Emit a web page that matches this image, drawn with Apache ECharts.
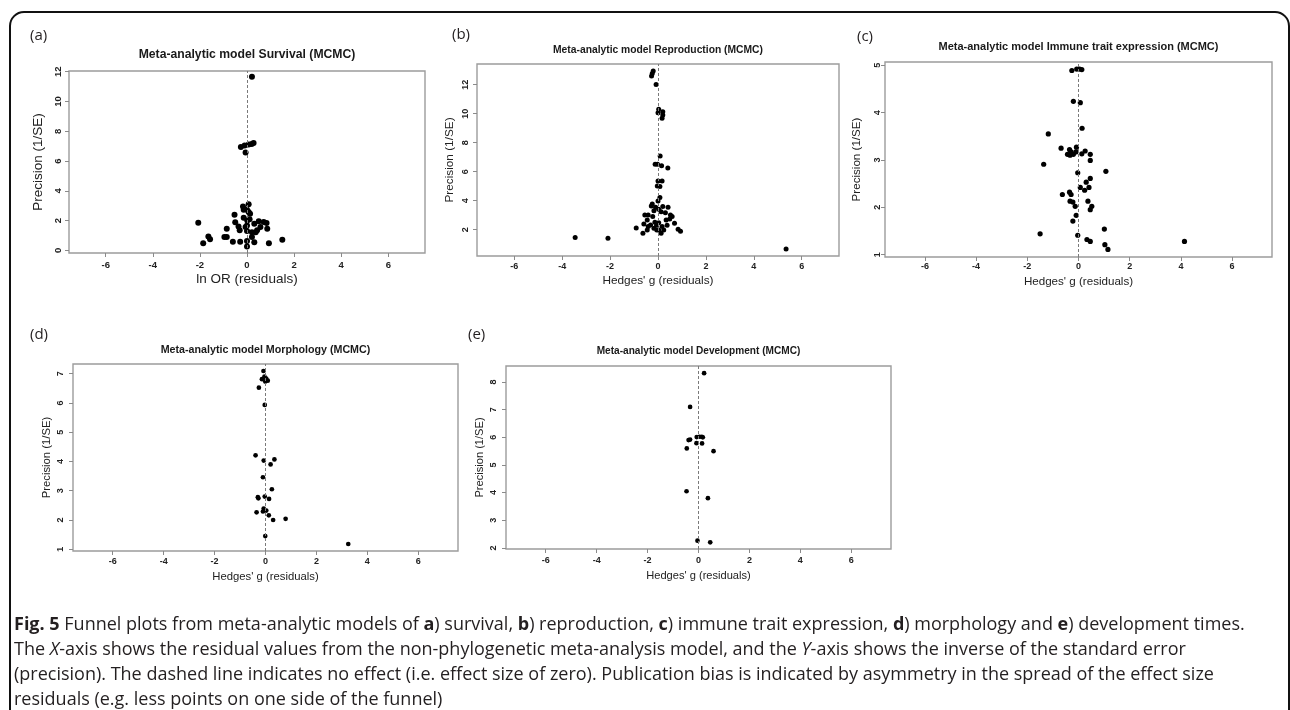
<!DOCTYPE html>
<html>
<head>
<meta charset="utf-8">
<script src="https://cdn.jsdelivr.net/npm/echarts@6/dist/echarts.min.js"></script>
<style>
  html, body { margin: 0; padding: 0; background: #fff; }
  #main { width: 1290px; height: 710px; }
</style>
</head>
<body>
<div id="main"></div>
<script>
// ---- Data: residual effect size (x) and precision 1/SE (y) for each trait model ----
const survivalResid = [0.21, -0.26, -0.1, 0.07, 0.2, 0.28, -0.06, 0.07, -0.17, -0.14, 0, 0.07, 0.13, -0.53, -2.07, -0.14, 0.01, 0.11, -0.5, 0.5, 0.31, 0.71, 0.83, 0, -0.06, -0.36, 0.57, -0.31, -0.86, 0, 0.37, 0.21, 0.86, 0.43, 0.21, -1.64, -1.57, -0.86, -0.96, 1.5, -0.6, -0.29, 0, 0.31, -1.86, 0.93, 0];
const survivalPrecision = [11.66, 6.95, 7.05, 7.12, 7.15, 7.22, 6.57, 3.1, 2.96, 2.74, 2.74, 2.58, 2.47, 2.4, 1.86, 2.2, 2.02, 2.09, 1.9, 1.97, 1.79, 1.91, 1.84, 1.68, 1.57, 1.61, 1.57, 1.35, 1.46, 1.3, 1.23, 1.23, 1.46, 1.35, 0.9, 0.94, 0.76, 0.9, 0.9, 0.72, 0.58, 0.58, 0.63, 0.56, 0.49, 0.49, 0.27];

const reproductionResid = [-0.2, -0.24, -0.27, -0.08, 0.03, 0.2, 0, 0.2, 0.17, 0.09, -0.12, -0.02, 0.15, 0.41, 0, 0.17, -0.03, 0.08, 0.08, 0, -0.24, -0.28, -0.1, 0.2, 0.42, 0.03, -0.17, 0.13, 0.31, -0.55, -0.41, 0.52, 0.59, -0.22, 0.49, -0.45, 0.34, -0.13, 0.03, 0.69, -0.59, -0.31, -0.06, 0.38, -0.41, 0.17, -0.91, -0.17, -0.45, -0.05, 0.03, 0.24, 0.84, 0.94, -0.63, 0.13, -3.46, -2.09, 5.35];
const reproductionPrecision = [12.94, 12.78, 12.6, 12.02, 10.3, 10.14, 10.07, 9.91, 9.68, 7.08, 6.51, 6.51, 6.41, 6.25, 5.36, 5.36, 5.01, 4.97, 4.21, 3.98, 3.77, 3.63, 3.54, 3.59, 3.54, 3.4, 3.31, 3.24, 3.17, 3.01, 3.01, 3.01, 2.9, 2.9, 2.74, 2.67, 2.67, 2.51, 2.48, 2.44, 2.39, 2.32, 2.3, 2.3, 2.21, 2.21, 2.11, 2.09, 1.98, 1.98, 1.98, 1.98, 2.02, 1.89, 1.75, 1.75, 1.45, 1.4, 0.67];

const immuneResid = [-0.26, -0.07, 0.04, 0.13, -0.2, 0.07, 0.14, -1.18, -0.68, -0.08, -0.35, -0.29, 0.26, -0.43, -0.33, -0.2, -0.1, 0.13, 0.46, 0.46, -1.36, -0.03, 1.07, 0.46, 0.3, 0.07, 0.41, 0.24, -0.63, -0.35, -0.29, 0.37, -0.33, -0.22, 0.52, 0.46, -0.13, -0.09, -0.22, 1.01, -1.5, -0.03, 0.33, 0.46, 4.14, 1.03, 1.15];
const immunePrecision = [4.89, 4.92, 4.92, 4.91, 4.24, 4.21, 3.67, 3.55, 3.25, 3.27, 3.22, 3.17, 3.19, 3.12, 3.1, 3.12, 3.17, 3.13, 3.12, 2.99, 2.91, 2.73, 2.76, 2.61, 2.53, 2.42, 2.42, 2.36, 2.27, 2.32, 2.27, 2.13, 2.13, 2.11, 2.02, 1.95, 2.02, 1.83, 1.71, 1.54, 1.44, 1.41, 1.32, 1.28, 1.28, 1.21, 1.11];

const morphologyResid = [-0.08, -0.04, -0.14, 0.03, 0.09, -0.01, -0.26, -0.03, -0.39, 0.35, -0.07, 0.2, -0.1, 0.25, -0.3, -0.28, -0.03, 0.14, -0.07, 0.03, -0.1, -0.35, 0.13, 0.79, 0.3, -0.01, 3.25];
const morphologyPrecision = [7.09, 6.9, 6.81, 6.83, 6.76, 6.73, 6.52, 5.93, 4.21, 4.07, 4.03, 3.9, 3.46, 3.05, 2.78, 2.74, 2.8, 2.72, 2.39, 2.32, 2.29, 2.26, 2.16, 2.04, 2.0, 1.45, 1.18];

const developmentResid = [0.22, -0.33, -0.39, -0.33, -0.07, 0.04, 0.13, 0.17, -0.08, 0.14, -0.46, 0.59, -0.47, 0.37, -0.04, 0.46];
const developmentPrecision = [8.32, 7.1, 5.9, 5.92, 6.01, 6.02, 6.02, 6.0, 5.79, 5.78, 5.6, 5.5, 4.05, 3.8, 2.26, 2.2];

// ---- Tick labels ----
const residTicks = [-6, -4, -2, 0, 2, 4, 6];
const survivalTicks = [0, 2, 4, 6, 8, 10, 12];
const reproductionTicks = [2, 4, 6, 8, 10, 12];
const immuneTicks = [1, 2, 3, 4, 5];
const morphologyTicks = [1, 2, 3, 4, 5, 6, 7];
const developmentTicks = [2, 3, 4, 5, 6, 7, 8];

// ---- Text ----
const panelLetters = ['(a)', '(b)', '(c)', '(d)', '(e)'];
const panelTitles = [
  'Meta-analytic model Survival (MCMC)',
  'Meta-analytic model Reproduction (MCMC)',
  'Meta-analytic model Immune trait expression (MCMC)',
  'Meta-analytic model Morphology (MCMC)',
  'Meta-analytic model Development (MCMC)'
];
const xNames = ['ln OR (residuals)', "Hedges' g (residuals)", "Hedges' g (residuals)", "Hedges' g (residuals)", "Hedges' g (residuals)"];
const yName = 'Precision (1/SE)';

const panels = [
  { x: survivalResid, y: survivalPrecision, yTicks: survivalTicks, yMin: -0.17, yMax: 12.05 },
  { x: reproductionResid, y: reproductionPrecision, yTicks: reproductionTicks, yMin: 0.18, yMax: 13.43 },
  { x: immuneResid, y: immunePrecision, yTicks: immuneTicks, yMin: 0.95, yMax: 5.07 },
  { x: morphologyResid, y: morphologyPrecision, yTicks: morphologyTicks, yMin: 0.94, yMax: 7.33 },
  { x: developmentResid, y: developmentPrecision, yTicks: developmentTicks, yMin: 1.96, yMax: 8.58 }
];
const X_MIN = -7.56, X_MAX = 7.56;

// ---- Layout of each panel (pixels) ----
const layout = [
  { left: 69,  top: 71,  width: 356, height: 182, titleY: 55,  titleSize: 12.2, letter: [30, 36],  nameSize: 13.5, yGap: 24,   xGap: 19.5, tickSize: 9.5, yMargin: 6,   xMargin: 7,   dot: 6 },
  { left: 477, top: 64,  width: 362, height: 192, titleY: 50,  titleSize: 10.3, letter: [452, 35], nameSize: 11.8, yGap: 21,   xGap: 19,   tickSize: 9,   yMargin: 7,   xMargin: 6,   dot: 5 },
  { left: 885, top: 62,  width: 387, height: 195, titleY: 47,  titleSize: 11,   letter: [857, 37], nameSize: 11.6, yGap: 22.5, xGap: 18.5, tickSize: 9,   yMargin: 3,   xMargin: 5.5, dot: 5.2 },
  { left: 73,  top: 364, width: 385, height: 187, titleY: 350, titleSize: 10.7, letter: [30, 335], nameSize: 11.3, yGap: 21,   xGap: 20,   tickSize: 9,   yMargin: 7.5, xMargin: 6.5, dot: 4.7 },
  { left: 506, top: 366, width: 385, height: 183, titleY: 351, titleSize: 10.1, letter: [468, 335], nameSize: 11.1, yGap: 20.5, xGap: 21.5, tickSize: 9,   yMargin: 7.5, xMargin: 7.5, dot: 4.7 }
];

const PLOT_FONT = '"Liberation Sans", Arial, Helvetica, sans-serif';
const CAPTION_FONT = '"Open Sans", "Noto Sans", sans-serif';
const BOX_COLOR = '#9c9c9c';

const grids = [], xAxes = [], yAxes = [], series = [], graphics = [];

panels.forEach((p, i) => {
  const L = layout[i];
  grids.push({
    left: L.left, top: L.top, width: L.width, height: L.height,
    show: true, borderColor: BOX_COLOR, borderWidth: 1.4, backgroundColor: 'transparent',
    containLabel: false, outerBoundsMode: 'none'
  });
  xAxes.push({
    type: 'value', gridIndex: i, min: X_MIN, max: X_MAX, position: 'bottom',
    name: xNames[i], nameLocation: 'middle', nameGap: L.xGap,
    nameTextStyle: { fontFamily: PLOT_FONT, fontSize: L.nameSize, color: '#222' },
    axisLine: { show: false, onZero: false },
    splitLine: { show: false },
    axisTick: { show: true, customValues: residTicks, length: 4, inside: false, lineStyle: { color: '#8a8a8a', width: 1 } },
    axisLabel: { customValues: residTicks, margin: L.xMargin, fontFamily: PLOT_FONT, fontWeight: 'bold', fontSize: L.tickSize, color: '#222' }
  });
  yAxes.push({
    type: 'value', gridIndex: i, min: p.yMin, max: p.yMax, position: 'left',
    name: yName, nameLocation: 'middle', nameGap: L.yGap,
    nameTextStyle: { fontFamily: PLOT_FONT, fontSize: L.nameSize, color: '#222' },
    axisLine: { show: false, onZero: false },
    splitLine: { show: false },
    axisTick: { show: true, customValues: p.yTicks, length: 4, inside: false, lineStyle: { color: '#8a8a8a', width: 1 } },
    axisLabel: { customValues: p.yTicks, rotate: 90, margin: L.yMargin, fontFamily: PLOT_FONT, fontWeight: 'bold', fontSize: L.tickSize, color: '#222' }
  });
  series.push({
    type: 'scatter', xAxisIndex: i, yAxisIndex: i,
    data: p.x.map((v, k) => [v, p.y[k]]),
    symbol: 'circle', symbolSize: L.dot,
    itemStyle: { color: '#000', opacity: 1 },
    silent: true, animation: false,
    markLine: {
      silent: true, animation: false, symbol: ['none', 'none'],
      label: { show: false },
      lineStyle: { type: [3, 2], color: '#7a7a7a', width: 1 },
      emphasis: { disabled: true },
      data: [{ xAxis: 0 }]
    }
  });
  graphics.push({
    type: 'text', silent: true,
    style: {
      text: panelTitles[i], x: L.left + L.width / 2, y: L.titleY,
      align: 'center', verticalAlign: 'middle', textAlign: 'center', textVerticalAlign: 'middle',
      font: 'bold ' + L.titleSize + 'px ' + PLOT_FONT, fill: '#1a1a1a'
    }
  });
  graphics.push({
    type: 'text', silent: true,
    style: {
      text: panelLetters[i], x: L.letter[0], y: L.letter[1],
      align: 'left', verticalAlign: 'middle', textAlign: 'left', textVerticalAlign: 'middle',
      font: '15px ' + CAPTION_FONT, fill: '#231f20'
    }
  });
});

// outer rounded frame
graphics.push({
  type: 'rect', silent: true,
  shape: { x: 10, y: 12, width: 1279, height: 740, r: 14 },
  style: { fill: 'none', stroke: '#111', lineWidth: 2 }
});

// figure caption
const capBase = { fontFamily: CAPTION_FONT, fontSize: 18, fill: '#231f20', color: '#231f20', lineHeight: 25 };
const captionRich = {
  n: Object.assign({}, capBase, { fontWeight: 'normal' }),
  b: Object.assign({}, capBase, { fontWeight: 'bold' }),
  i: Object.assign({}, capBase, { fontStyle: 'italic' })
};
const captionLines = [
  '{b|Fig. 5}{n| Funnel plots from meta-analytic models of }{b|a}{n|) survival, }{b|b}{n|) reproduction, }{b|c}{n|) immune trait expression, }{b|d}{n|) morphology and }{b|e}{n|) development times.}',
  '{n|The }{i|X}{n|-axis shows the residual values from the non-phylogenetic meta-analysis model, and the }{i|Y}{n|-axis shows the inverse of the standard error}',
  '{n|(precision). The dashed line indicates no effect (i.e. effect size of zero). Publication bias is indicated by asymmetry in the spread of the effect size}',
  '{n|residuals (e.g. less points on one side of the funnel)}'
];
graphics.push({
  type: 'text', silent: true,
  style: {
    text: captionLines.join('\n'), x: 14, y: 612,
    align: 'left', verticalAlign: 'top', textAlign: 'left', textVerticalAlign: 'top',
    fontFamily: CAPTION_FONT, fontSize: 18, lineHeight: 25, fill: '#231f20',
    rich: captionRich
  }
});

const chart = echarts.init(document.getElementById('main'), null, { renderer: 'canvas' });
chart.setOption({
  animation: false,
  backgroundColor: '#ffffff',
  grid: grids,
  xAxis: xAxes,
  yAxis: yAxes,
  series: series,
  graphic: { elements: graphics }
});
</script>
</body>
</html>
